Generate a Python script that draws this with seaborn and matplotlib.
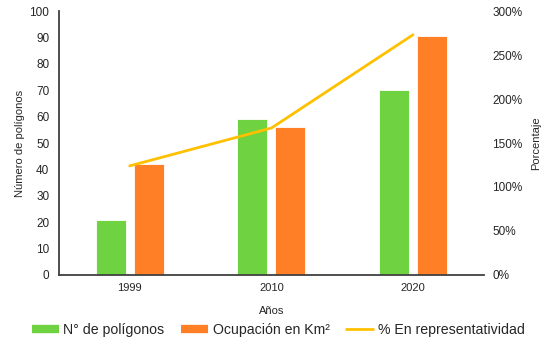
import numpy as np
import pandas as pd
import matplotlib.pyplot as plt
import seaborn as sns
from matplotlib.lines import Line2D
from matplotlib.ticker import FuncFormatter

# Data
years = ['1999', '2010', '2020']
n_poligonos = [21, 59, 70]
ocupacion_km2 = [42, 56, 90.5]
pct_representatividad = [124, 167, 273]

series_names = ['N° de polígonos', 'Ocupación en Km²']
colors = ['#6fd241', '#ff7f27']
line_color = '#ffc000'

df = pd.DataFrame({
    'Años': years * 2,
    'serie': [series_names[0]] * 3 + [series_names[1]] * 3,
    'valor': n_poligonos + ocupacion_km2,
})

sns.set_style('white')
plt.rcParams['font.family'] = ['Liberation Sans', 'DejaVu Sans']

fig = plt.figure(figsize=(5.51, 3.45), dpi=100)
ax = fig.add_axes([0.107, 0.203, 0.771, 0.765])

sns.barplot(data=df, x='Años', y='valor', hue='serie', palette=colors,
            saturation=1, width=0.536, gap=0.21, edgecolor='white',
            linewidth=0.6, legend=False, ax=ax)

ax.set_ylim(0, 100)
ax.set_yticks(np.arange(0, 101, 10))
ax.set_xlim(-0.5, 2.5)
ax.set_xticks([-0.5, 0.5, 1.5, 2.5], minor=True)
ax.tick_params(axis='x', which='major', length=0, pad=6, labelsize=8, colors='#262626')
ax.tick_params(axis='x', which='minor', length=4, width=1, color='#404040', direction='out')
ax.tick_params(axis='y', length=0, pad=7, labelsize=8.5, colors='#262626')
ax.set_xlabel('Años', fontsize=8, color='#262626', labelpad=9)
ax.set_ylabel('Número de polígonos', fontsize=8, color='#262626', labelpad=3)
for s in ['top', 'right']:
    ax.spines[s].set_visible(False)
for s in ['left', 'bottom']:
    ax.spines[s].set_color('#404040')
    ax.spines[s].set_linewidth(1.3)

# percentage line on secondary axis
ax2 = ax.twinx()
sns.lineplot(x=np.arange(len(years)), y=pct_representatividad, color=line_color,
             linewidth=2, ax=ax2)
ax2.set_ylim(0, 300)
ax2.set_yticks(np.arange(0, 301, 50))
ax2.yaxis.set_major_formatter(FuncFormatter(lambda v, p: f'{v:.0f}%'))
ax2.tick_params(axis='y', length=0, pad=6, labelsize=8.5, colors='#262626')
ax2.set_ylabel('Porcentaje', fontsize=8, color='#262626', labelpad=6)
for s in ['top', 'right', 'left', 'bottom']:
    ax2.spines[s].set_visible(False)

handles = [
    Line2D([], [], color=colors[0], linewidth=6, solid_capstyle='butt'),
    Line2D([], [], color=colors[1], linewidth=6, solid_capstyle='butt'),
    Line2D([], [], color=line_color, linewidth=2),
]
labels = series_names + ['% En representatividad']
fig.legend(handles, labels, loc='center', bbox_to_anchor=(0.505, 0.043), ncol=3,
           frameon=False, fontsize=10.2, handlelength=1.9, handletextpad=0.3,
           columnspacing=1.2, labelcolor='#262626')

fig.savefig('out.png', dpi=100)
